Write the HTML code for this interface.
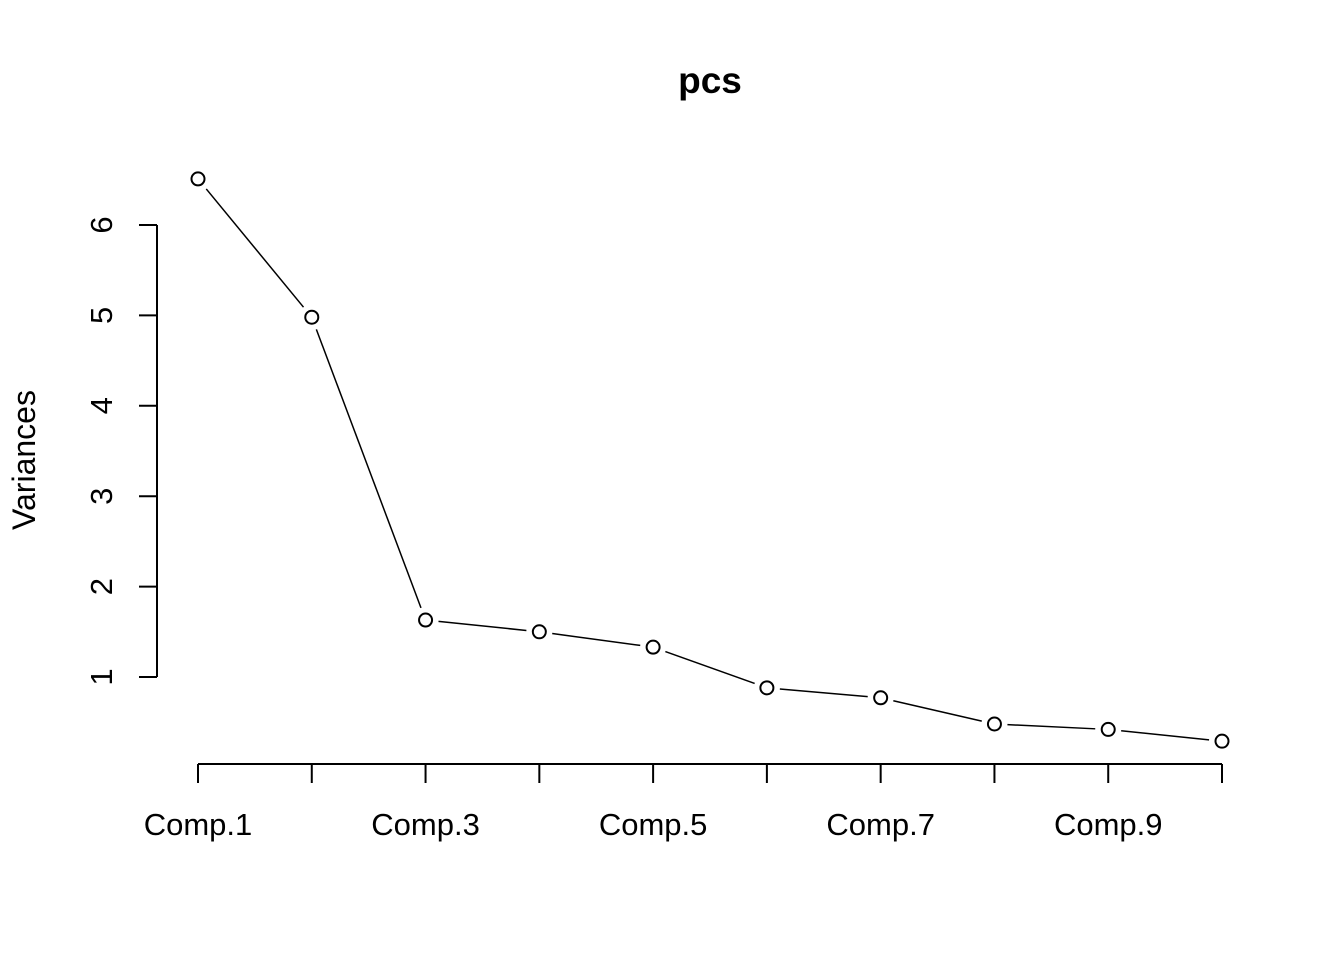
<!DOCTYPE html>
<html><head><meta charset="utf-8"><style>
html,body{margin:0;padding:0;background:#fff;}
svg{display:block;font-family:"Liberation Sans",Arial,sans-serif;}
</style></head><body>
<svg id="chart" width="1344" height="960" viewBox="0 0 1344 960" xmlns="http://www.w3.org/2000/svg">
<text x="710" y="93" text-anchor="middle" font-size="37" font-weight="bold">pcs</text>
<text transform="translate(35,460) rotate(-90)" text-anchor="middle" font-size="32">Variances</text>
<g id="axes"></g>
<g id="marks"></g>
</svg>
<script>
const categories = ["Comp.1","Comp.2","Comp.3","Comp.4","Comp.5","Comp.6","Comp.7","Comp.8","Comp.9","Comp.10"];
const variances = [6.51, 4.98, 1.63, 1.50, 1.33, 0.88, 0.77, 0.48, 0.42, 0.29];
const yTicks = [1, 2, 3, 4, 5, 6];
const xLabelIdx = [0, 2, 4, 6, 8];

const NS = "http://www.w3.org/2000/svg";
const xScale = i => 198 + i * (1222 - 198) / (categories.length - 1);
const yScale = v => 677 - (v - 1) * (677 - 225) / 5;
function mk(tag, attrs, parent){const e=document.createElementNS(NS,tag);for(const k in attrs)e.setAttribute(k,attrs[k]);parent.appendChild(e);return e;}
const axes=document.getElementById('axes'), marks=document.getElementById('marks');
const st={stroke:"#000","stroke-width":2,fill:"none"};

let yl=mk('line',Object.assign({x1:157,x2:157,y1:yScale(yTicks[0]),y2:yScale(yTicks[yTicks.length-1])},st),axes);


yTicks.forEach(t=>{
  const y=yScale(t);
  const tk=mk('line',Object.assign({x1:139,x2:157,y1:y,y2:y},st),axes);
  
  
  const tx=mk('text',{transform:`translate(112,${y}) rotate(-90)`,"text-anchor":"middle","font-size":"31"},axes);
  tx.textContent=t;
  
  
});
let xl=mk('line',Object.assign({x1:xScale(0),x2:xScale(categories.length-1),y1:764,y2:764},st),axes);


categories.forEach((c,i)=>{
  const x=xScale(i);
  const tk=mk('line',Object.assign({x1:x,x2:x,y1:764,y2:783},st),axes);
  
  
});
xLabelIdx.forEach(i=>{
  const tx=mk('text',{x:xScale(i),y:835,"text-anchor":"middle","font-size":"31"},axes);
  tx.textContent=categories[i];
  
  
});
const gap=13;
for(let i=0;i<variances.length-1;i++){
  const x1=xScale(i),y1=yScale(variances[i]),x2=xScale(i+1),y2=yScale(variances[i+1]);
  const d=Math.hypot(x2-x1,y2-y1),ux=(x2-x1)/d,uy=(y2-y1)/d;
  const l=mk('line',Object.assign({x1:x1+ux*gap,y1:y1+uy*gap,x2:x2-ux*gap,y2:y2-uy*gap},st),marks);
  l.setAttribute('stroke-width',1.5);
  
  
}
variances.forEach((v,i)=>{
  const c=mk('circle',Object.assign({cx:xScale(i),cy:yScale(v),r:6.5},st),marks);
  
  
});
</script>
</body></html>
